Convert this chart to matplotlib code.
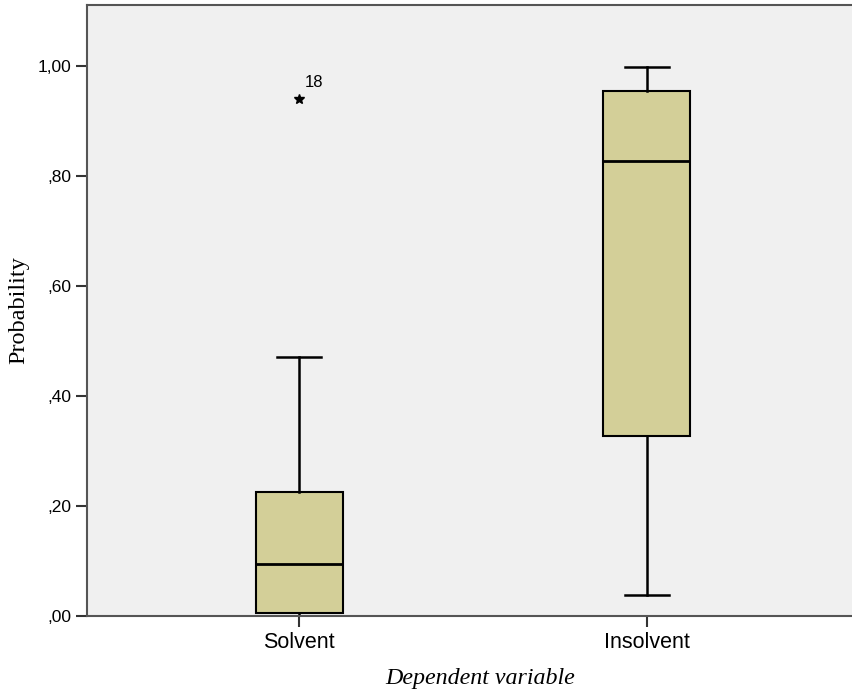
import matplotlib
matplotlib.use("Agg")
import matplotlib.pyplot as plt

# values
groups = ["Solvent", "Insolvent"]
whisker_low = [0.0, 0.038]
q1 = [0.005, 0.327]
median = [0.094, 0.826]
q3 = [0.224, 0.953]
whisker_high = [0.47, 0.998]
outliers = [[0.94], []]
outlier_ids = [["18"], []]
yticks = [0.0, 0.2, 0.4, 0.6, 0.8, 1.0]
ytick_labels = [",00", ",20", ",40", ",60", ",80", "1,00"]

stats = []
for i, name in enumerate(groups):
    stats.append(dict(label=name, whislo=whisker_low[i], q1=q1[i], med=median[i],
                      q3=q3[i], whishi=whisker_high[i], fliers=outliers[i]))

fig = plt.figure(figsize=(8.53, 6.91), dpi=100)
ax = fig.add_axes([87 / 853, 1 - 615.5 / 691, 1 - 87 / 853, (615.5 - 5) / 691])
ax.set_facecolor("#f0f0f0")

ax.bxp(stats, positions=[1, 2], widths=0.25, patch_artist=True,
       boxprops=dict(facecolor="#d3cf98", edgecolor="black", linewidth=1.5),
       medianprops=dict(color="black", linewidth=2),
       whiskerprops=dict(color="black", linewidth=1.8),
       capprops=dict(color="black", linewidth=1.8),
       capwidths=0.127,
       flierprops=dict(marker="*", markerfacecolor="black", markeredgecolor="black",
                       markersize=7, linestyle="none"))

for i, ids in enumerate(outlier_ids):
    for val, lab in zip(outliers[i], ids):
        ax.annotate(lab, (i + 1, val), xytext=(4, 8), textcoords="offset points",
                    fontsize=12, family="Liberation Sans")

ax.set_xlim(0.39, 2.593)
ax.set_ylim(0, 1.11)
ax.set_yticks(yticks)
ax.set_yticklabels(ytick_labels, family="Liberation Sans", fontsize=12.5)
ax.set_xticks([1, 2])
ax.set_xticklabels(groups, family="Liberation Sans", fontsize=15.5)
ax.tick_params(axis="both", direction="out", length=8, width=1.5, color="#333333")
ax.tick_params(axis="x", pad=4)

for s in ["left", "bottom", "top"]:
    ax.spines[s].set_color("#555555")
    ax.spines[s].set_linewidth(1.5)
ax.spines["right"].set_visible(False)

ax.set_ylabel("Probability", family="Liberation Serif", fontsize=17.5, labelpad=6)
ax.set_xlabel("Dependent variable", family="Liberation Serif", style="italic",
              fontsize=17.3)
ax.xaxis.set_label_coords(0.513, -0.086)

fig.savefig("out.png", dpi=100)
